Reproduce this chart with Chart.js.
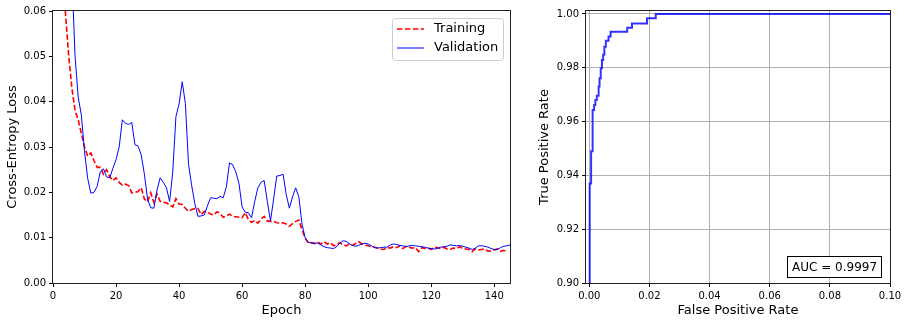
<!DOCTYPE html>
<html>
<head>
<meta charset="utf-8">
<script src="https://cdn.jsdelivr.net/npm/chart.js@4.4.1/dist/chart.umd.min.js"></script>
<style>
  body { margin: 0; background: #fff; }
  canvas { position: absolute; top: 0; }
  #loss { left: 0; }
  #roc { left: 530px; }
</style>
</head>
<body>
<canvas id="loss" width="530" height="324"></canvas>
<canvas id="roc" width="378" height="324"></canvas>
<script>
// loss per epoch (epoch 0..145)
const trainLoss = [
  0.25, 0.14, 0.095, 0.072, 0.059, 0.050, 0.043, 0.038, 0.036, 0.033,
  0.030, 0.028, 0.0287, 0.027, 0.0255, 0.0255, 0.024, 0.025, 0.0235, 0.0226,
  0.0232, 0.0222, 0.0216, 0.0218, 0.0215, 0.0199, 0.0200, 0.0202, 0.0210, 0.0185,
  0.0179, 0.0199, 0.0178, 0.0196, 0.0180, 0.0178, 0.0177, 0.0172, 0.0168, 0.0186,
  0.0174, 0.0173, 0.0165, 0.0158, 0.0162, 0.0164, 0.0164, 0.0151, 0.0158, 0.0157,
  0.0152, 0.0150, 0.0157, 0.0154, 0.0145, 0.0148, 0.0152, 0.0147, 0.0146, 0.0145,
  0.0144, 0.0155, 0.0140, 0.0134, 0.0138, 0.0132, 0.0141, 0.0147, 0.0137, 0.0136,
  0.0136, 0.0133, 0.0132, 0.0133, 0.0130, 0.0125, 0.0131, 0.0136, 0.0139, 0.0118,
  0.0099, 0.0088, 0.0089, 0.0087, 0.0090, 0.0086, 0.0091, 0.0086, 0.0089, 0.0082,
  0.0085, 0.0089, 0.0084, 0.0082, 0.0086, 0.0083, 0.0087, 0.0091, 0.0086, 0.0084,
  0.0082, 0.0080, 0.0079, 0.0077, 0.0075, 0.0074, 0.0078, 0.0077, 0.0080, 0.0078,
  0.0082, 0.0076, 0.0081, 0.0079, 0.0077, 0.0078, 0.0069, 0.0078, 0.0076, 0.0077,
  0.0074, 0.0079, 0.0078, 0.0076, 0.0079, 0.0075, 0.0074, 0.0077, 0.0076, 0.0080,
  0.0076, 0.0075, 0.0074, 0.0069, 0.0075, 0.0073, 0.0074, 0.0075, 0.0070, 0.0071,
  0.0073, 0.0075, 0.0070, 0.0072, 0.0069
];
const valLoss = [
  0.30, 0.22, 0.16, 0.12, 0.095, 0.080, 0.068, 0.050, 0.041, 0.037,
  0.029, 0.0231, 0.0198, 0.0200, 0.0213, 0.0245, 0.0252, 0.0234, 0.0232, 0.0253,
  0.0272, 0.0300, 0.0360, 0.0352, 0.0350, 0.0354, 0.0305, 0.0302, 0.0282, 0.0240,
  0.0185, 0.0166, 0.0165, 0.0205, 0.0232, 0.0222, 0.0210, 0.0180, 0.0245, 0.0367,
  0.0395, 0.0444, 0.0396, 0.0262, 0.0215, 0.0175, 0.0147, 0.0148, 0.0150, 0.0170,
  0.0188, 0.0187, 0.0186, 0.0191, 0.0188, 0.0212, 0.0265, 0.0261, 0.0245, 0.0220,
  0.0168, 0.0156, 0.0155, 0.0144, 0.0180, 0.0210, 0.0222, 0.0226, 0.0180, 0.0137,
  0.0185, 0.0236, 0.0237, 0.0240, 0.0195, 0.0165, 0.0190, 0.0210, 0.0190, 0.0130,
  0.0100, 0.0090, 0.0088, 0.0088, 0.0088, 0.0084, 0.0080, 0.0078, 0.0077, 0.0076,
  0.0080, 0.0088, 0.0093, 0.0092, 0.0087, 0.0083, 0.0081, 0.0083, 0.0086, 0.0088,
  0.0086, 0.0082, 0.0078, 0.0077, 0.0078, 0.0079, 0.0079, 0.0084, 0.0086, 0.0085,
  0.0083, 0.0082, 0.0080, 0.0082, 0.0083, 0.0082, 0.0081, 0.0080, 0.0079, 0.0077,
  0.0076, 0.0075, 0.0076, 0.0079, 0.0080, 0.0081, 0.0084, 0.0083, 0.0082, 0.0083,
  0.0081, 0.0079, 0.0077, 0.0074, 0.0077, 0.0082, 0.0082, 0.0081, 0.0079, 0.0076,
  0.0074, 0.0074, 0.0078, 0.0081, 0.0082, 0.0084
];
const epochs = valLoss.map((_, i) => i);

const epochTicks = [0, 20, 40, 60, 80, 100, 120, 140];
const lossTicks = [0, 0.01, 0.02, 0.03, 0.04, 0.05, 0.06];

// ROC curve corner points
const rocFpr = [0, 0, 0.0002, 0.0002, 0.0006, 0.0006, 0.0009, 0.0009, 0.0012, 0.0012,
  0.0016, 0.0016, 0.002, 0.002, 0.0025, 0.0025, 0.0031, 0.0031, 0.0034, 0.0034,
  0.0038, 0.0038, 0.0042, 0.0042, 0.0046, 0.0046, 0.005, 0.005, 0.0055, 0.0055,
  0.0064, 0.0064, 0.0071, 0.0071, 0.0126, 0.0126, 0.0142, 0.0142, 0.0192, 0.0192,
  0.0221, 0.0221, 1.0];
const rocTpr = [0, 0.905, 0.905, 0.937, 0.937, 0.949, 0.949, 0.9525, 0.9525, 0.9643,
  0.9643, 0.9662, 0.9662, 0.968, 0.968, 0.9696, 0.9696, 0.973, 0.973, 0.9761,
  0.9761, 0.9798, 0.9798, 0.9829, 0.9829, 0.9848, 0.9848, 0.9878, 0.9878, 0.99,
  0.99, 0.9916, 0.9916, 0.9934, 0.9934, 0.9949, 0.9949, 0.9965, 0.9965, 0.9984,
  0.9984, 1.0, 1.0];
const aucText = 'AUC = 0.9997';

const fprTicks = [0, 0.02, 0.04, 0.06, 0.08, 0.10];
const tprTicks = [0.90, 0.92, 0.94, 0.96, 0.98, 1.00];

Chart.defaults.font.family = "'DejaVu Sans', sans-serif";
Chart.defaults.color = '#000';

// box around the plot area, like matplotlib spines
const frame = {
  id: 'frame',
  afterDraw(chart) {
    const { ctx, chartArea: a } = chart;
    ctx.save();
    ctx.strokeStyle = '#222';
    ctx.lineWidth = 1;
    ctx.strokeRect(a.left - 0.5, a.top - 0.5, a.right - a.left + 1, a.bottom - a.top + 1);
    ctx.restore();
  }
};

const lossLegend = {
  id: 'lossLegend',
  afterDraw(chart) {
    const { ctx, chartArea: a } = chart;
    const w = 111, h = 42;
    const x = a.right - 7 - w, y = a.top + 7;
    ctx.save();
    ctx.fillStyle = 'rgba(255,255,255,0.8)';
    ctx.strokeStyle = '#ccc';
    ctx.lineWidth = 1;
    ctx.beginPath();
    ctx.roundRect(x + 0.5, y + 0.5, w, h, 3);
    ctx.fill();
    ctx.stroke();
    chart.data.datasets.forEach((ds, i) => {
      const ly = y + 11 + i * 19;
      ctx.strokeStyle = ds.borderColor;
      ctx.lineWidth = ds.borderWidth;
      ctx.setLineDash(ds.borderDash || []);
      ctx.beginPath();
      ctx.moveTo(x + 5, ly);
      ctx.lineTo(x + 32, ly);
      ctx.stroke();
      ctx.setLineDash([]);
      ctx.fillStyle = '#000';
      ctx.font = "13px 'DejaVu Sans'";
      ctx.textBaseline = 'middle';
      ctx.fillText(ds.label, x + 42, ly);
    });
    ctx.restore();
  }
};

const aucBox = {
  id: 'aucBox',
  afterDraw(chart) {
    const { ctx, chartArea: a } = chart;
    ctx.save();
    ctx.font = "12px 'DejaVu Sans'";
    const tw = ctx.measureText(aucText).width;
    const w = Math.round(tw + 9), h = 21;
    const x = Math.round(a.right - 9 - w), y = Math.round(a.bottom - 6 - h);
    ctx.fillStyle = '#fff';
    ctx.fillRect(x, y, w, h);
    ctx.strokeStyle = '#000';
    ctx.lineWidth = 1;
    ctx.strokeRect(x + 0.5, y + 0.5, w, h);
    ctx.fillStyle = '#000';
    ctx.textBaseline = 'middle';
    ctx.fillText(aucText, x + 5, y + h / 2 + 1);
    ctx.restore();
  }
};

new Chart(document.getElementById('loss'), {
  type: 'line',
  data: {
    datasets: [
      {
        label: 'Training',
        data: epochs.map((e, i) => ({ x: e, y: trainLoss[i] })),
        borderColor: '#ff0000',
        borderWidth: 1.6,
        borderDash: [5.5, 2.4],
        pointRadius: 0,
        order: 1
      },
      {
        label: 'Validation',
        data: epochs.map((e, i) => ({ x: e, y: valLoss[i] })),
        borderColor: '#0000ff',
        borderWidth: 1,
        pointRadius: 0,
        order: 0
      }
    ]
  },
  options: {
    responsive: false,
    animation: false,
    devicePixelRatio: 1,
    layout: { padding: { top: 11, right: 20, left: 0, bottom: 0 } },
    plugins: { legend: { display: false }, tooltip: { enabled: false } },
    scales: {
      x: {
        type: 'linear', min: 0, max: 145,
        afterBuildTicks: s => { s.ticks = epochTicks.map(v => ({ value: v })); },
        afterFit: s => { s.height = 41; },
        grid: { drawOnChartArea: false, tickLength: 4, tickColor: '#000' },
        border: { display: false },
        ticks: { padding: 3, font: { size: 10 }, maxRotation: 0, callback: v => String(v) },
        title: { display: true, text: 'Epoch', font: { size: 13 }, padding: { top: 0, bottom: 6 } }
      },
      y: {
        type: 'linear', min: 0, max: 0.06,
        afterBuildTicks: s => { s.ticks = lossTicks.map(v => ({ value: v })); },
        afterFit: s => { s.width = 53; },
        grid: { drawOnChartArea: false, tickLength: 4, tickColor: '#000' },
        border: { display: false },
        ticks: { padding: 3, font: { size: 10 }, callback: v => v.toFixed(2) },
        title: { display: true, text: 'Cross-Entropy Loss', font: { size: 13 }, padding: { top: 5, bottom: 0 } }
      }
    }
  },
  plugins: [frame, lossLegend]
});

new Chart(document.getElementById('roc'), {
  type: 'line',
  data: {
    datasets: [{
      label: 'ROC',
      data: rocFpr.map((f, i) => ({ x: f, y: rocTpr[i] })),
      borderColor: 'rgba(0,0,255,0.8)',
      borderWidth: 2,
      pointRadius: 0
    }]
  },
  options: {
    responsive: false,
    animation: false,
    devicePixelRatio: 1,
    layout: { padding: { top: 11, right: 18, left: 0, bottom: 0 } },
    plugins: { legend: { display: false }, tooltip: { enabled: false } },
    scales: {
      x: {
        type: 'linear', min: -0.0011, max: 0.1,
        afterBuildTicks: s => { s.ticks = fprTicks.map(v => ({ value: v })); },
        afterFit: s => { s.height = 41; },
        grid: { color: '#b0b0b0', tickLength: 4, tickColor: '#000' },
        border: { display: false },
        ticks: { padding: 3, font: { size: 10 }, maxRotation: 0, callback: v => v.toFixed(2) },
        title: { display: true, text: 'False Positive Rate', font: { size: 13 }, padding: { top: 0, bottom: 6 } }
      },
      y: {
        type: 'linear', min: 0.9, max: 1.0011,
        afterBuildTicks: s => { s.ticks = tprTicks.map(v => ({ value: v })); },
        afterFit: s => { s.width = 56; },
        grid: { color: '#b0b0b0', tickLength: 4, tickColor: '#000' },
        border: { display: false },
        ticks: { padding: 3, font: { size: 10 }, callback: v => v.toFixed(2) },
        title: { display: true, text: 'True Positive Rate', font: { size: 13 }, padding: { top: 7, bottom: 0 } }
      }
    }
  },
  plugins: [frame, aucBox]
});
</script>
</body>
</html>
